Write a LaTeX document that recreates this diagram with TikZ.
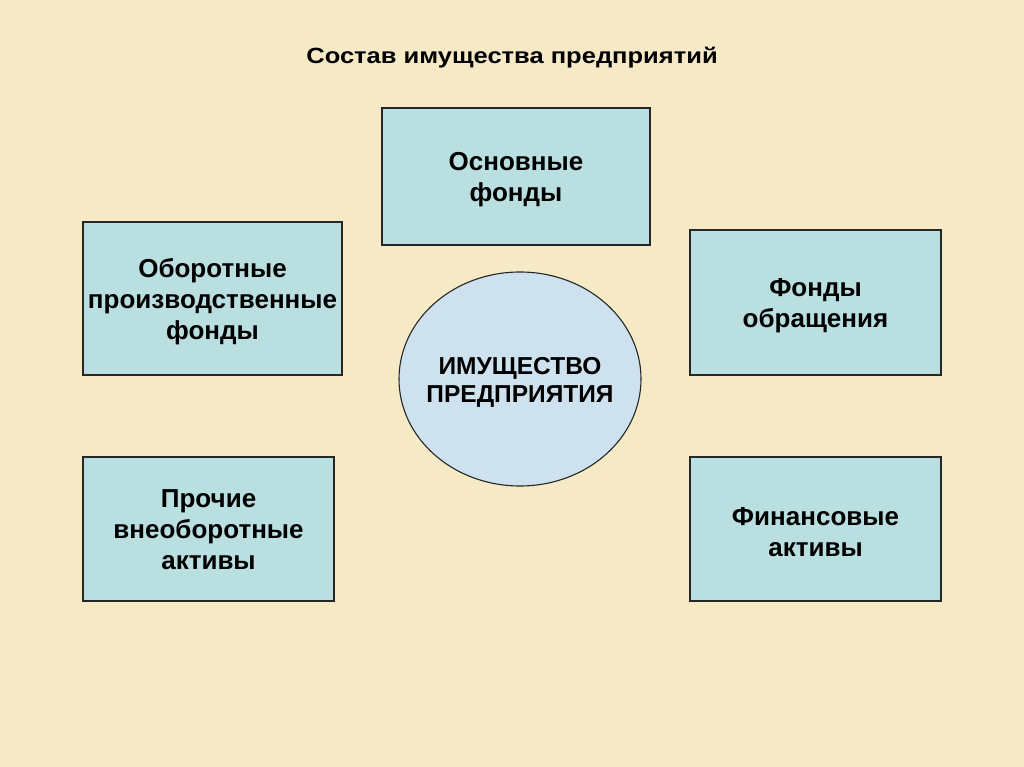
\documentclass[tikz,border=0pt]{standalone}
\usepackage{fontspec}
\setmainfont{Liberation Sans}
\usetikzlibrary{shapes.geometric}
\definecolor{bg}{HTML}{F5E9C6}
\definecolor{boxfill}{HTML}{BADFE1}
\definecolor{ellfill}{HTML}{CEE1EE}
\tikzset{
  box/.style={draw=black!85, line width=1.1pt, fill=boxfill, inner sep=0pt},
  boxtext/.style={inner sep=0pt, align=center, font=\fontsize{26}{31}\selectfont\bfseries},
  hub/.style={ellipse, draw=black!85, line width=1.1pt, fill=ellfill, inner sep=0pt,
    minimum width=242pt, minimum height=214pt},
  hubtext/.style={inner sep=0pt, align=center, font=\fontsize{24.5}{28}\selectfont\bfseries},
  titletext/.style={font=\fontsize{22}{26}\selectfont\bfseries, inner sep=0pt, xscale=1.16, transform shape}
}
\begin{document}
\begin{tikzpicture}[x=1pt,y=-1pt]
\fill[bg] (0,0) rectangle (1024,767);
\useasboundingbox (0,0) rectangle (1024,767);
\node[titletext] (title) at (512,58) {Состав имущества предприятий};
\node[box, minimum width=268pt, minimum height=137pt] (osn) at (516,176.5) {};
\node[boxtext] (osnT) at ([yshift=-3pt]osn.center) {Основные\\фонды};
\node[box, minimum width=259pt, minimum height=153pt] (obor) at (212.5,298.5) {};
\node[boxtext] (oborT) at ([yshift=-3pt]obor.center) {Оборотные\\производственные\\фонды};
\node[box, minimum width=251pt, minimum height=145pt] (obr) at (815.5,302.5) {};
\node[boxtext] (obrT) at ([yshift=-3pt]obr.center) {Фонды\\обращения};
\node[box, minimum width=251pt, minimum height=144pt] (proch) at (208.5,529) {};
\node[boxtext] (prochT) at ([yshift=-1pt]proch.center) {Прочие\\внеоборотные\\активы};
\node[box, minimum width=251pt, minimum height=144pt] (fin) at (815.5,529) {};
\node[boxtext] (finT) at ([yshift=-3pt]fin.center) {Финансовые\\активы};
\node[hub] (hub) at (520,379) {};
\node[hubtext] (hubT) at ([yshift=-3pt]hub.center) {ИМУЩЕСТВО\\ПРЕДПРИЯТИЯ};
\end{tikzpicture}
\end{document}
